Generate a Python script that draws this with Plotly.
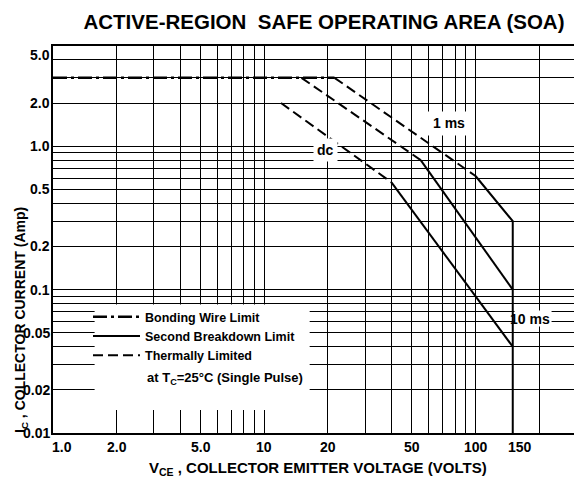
import math
import plotly.graph_objects as go

# ---------------- data ----------------
x_grid = [2, 3, 4, 5, 6, 7, 8, 9, 10, 20, 30, 40, 50, 60, 70, 80, 90, 100, 200]
x_tick_vals = [1, 2, 5, 10, 20, 50, 100, 150]
x_tick_labels = ["1.0", "2.0", "5.0", "10", "20", "50", "100", "150"]
y_grid = [4, 3, 2, 1, 0.9, 0.8, 0.7, 0.6, 0.5, 0.4, 0.3, 0.2,
          0.1, 0.09, 0.08, 0.07, 0.06, 0.05, 0.04, 0.03, 0.02]
y_tick_vals = [5, 2, 1, 0.5, 0.2, 0.1, 0.05, 0.02, 0.01]
y_tick_labels = ["5.0", "2.0", "1.0", "0.5", "0.2", "0.1", "0.05", "0.02", "0.01"]

bond_v = [1.0, 21.5]
bond_i = [3.0, 3.0]
dc_th_v = [12, 40]
dc_th_i = [2.0, 0.56]
dc_sb_v = [40, 150]
dc_sb_i = [0.56, 0.04]
ms10_th_v = [15, 55]
ms10_th_i = [3.0, 0.8]
ms10_sb_v = [55, 150]
ms10_sb_i = [0.8, 0.1]
ms1_th_v = [21.5, 100]
ms1_th_i = [3.0, 0.62]
ms1_sb_v = [100, 150, 150]
ms1_sb_i = [0.62, 0.3, 0.01]

FONT = "Arial, 'Liberation Sans', Helvetica, sans-serif"
INK = "#000000"
GRID = "#000000"
DASH = "10px,5px"
DASHDOT = "14px,4px,3px,4px"

fig = go.Figure()

fig.add_trace(go.Scatter(x=bond_v, y=bond_i, mode="lines", name="<b>Bonding Wire Limit</b>",
                         line=dict(color=INK, width=2.5, dash=DASHDOT), legendrank=1))
first = True
for v, i in [(dc_sb_v, dc_sb_i), (ms10_sb_v, ms10_sb_i), (ms1_sb_v, ms1_sb_i)]:
    fig.add_trace(go.Scatter(x=v, y=i, mode="lines", name="<b>Second Breakdown Limit</b>",
                             legendgroup="sb", showlegend=first, legendrank=2,
                             line=dict(color=INK, width=2)))
    first = False
first = True
for v, i in [(dc_th_v, dc_th_i), (ms10_th_v, ms10_th_i), (ms1_th_v, ms1_th_i)]:
    fig.add_trace(go.Scatter(x=v, y=i, mode="lines", name="<b>Thermally Limited</b>",
                             legendgroup="th", showlegend=first, legendrank=3,
                             line=dict(color=INK, width=2, dash=DASH)))
    first = False

ann = []
# tick labels
for v, t in zip(x_tick_vals, x_tick_labels):
    xs = 0
    if v == 1:
        xs = 9
    if v == 150:
        xs = 7
    ann.append(dict(x=math.log10(v), y=0, xref="x", yref="paper", text="<b>%s</b>" % t,
                    showarrow=False, xanchor="center", yanchor="top", yshift=-4, xshift=xs,
                    font=dict(family=FONT, size=14, color=INK)))
for v, t in zip(y_tick_vals, y_tick_labels):
    ys = -9 if v == 5 else 0
    ann.append(dict(x=0, y=math.log10(v), xref="paper", yref="y", text="<b>%s</b>" % t,
                    showarrow=False, xanchor="right", yanchor="middle", xshift=-1, yshift=ys,
                    font=dict(family=FONT, size=14, color=INK)))
# axis titles
ann.append(dict(x=0.5086, y=0, xref="paper", yref="paper", yshift=-35,
                text="<b>V<sub>CE</sub> , COLLECTOR EMITTER VOLTAGE (VOLTS)</b>",
                showarrow=False, xanchor="center", yanchor="middle",
                font=dict(family=FONT, size=15, color=INK)))
ann.append(dict(x=0, y=0.292, xref="paper", yref="paper", xshift=-32,
                text="<b>I<sub>C</sub> , COLLECTOR CURRENT (Amp)</b>", textangle=-90,
                showarrow=False, xanchor="center", yanchor="middle",
                font=dict(family=FONT, size=14, color=INK)))
# curve labels
ann.append(dict(x=math.log10(19.5), y=math.log10(0.938), xref="x", yref="y", text="<b>dc</b>",
                showarrow=False, bgcolor="white", borderpad=3,
                font=dict(family=FONT, size=14, color=INK)))
ann.append(dict(x=math.log10(74.5), y=math.log10(1.445), xref="x", yref="y", text="<b>1 ms</b>",
                showarrow=False, font=dict(family=FONT, size=14, color=INK)))
ann.append(dict(x=math.log10(182), y=math.log10(0.0628), xref="x", yref="y", text="<b>10 ms</b>",
                showarrow=False, font=dict(family=FONT, size=14, color=INK)))
ann.append(dict(x=0.1766, y=0.142, xref="paper", yref="paper",
                text="<b>at T<sub>C</sub>=25°C (Single Pulse)</b>",
                showarrow=False, xanchor="left", yanchor="middle",
                font=dict(family=FONT, size=13, color=INK)))

shapes = [
    dict(type="rect", xref="x", yref="y", x0=1.574, x1=16.4, y0=0.01445, y1=0.0787,
         fillcolor="white", line=dict(width=0), layer="between"),
    dict(type="rect", xref="x", yref="y", x0=57.4, x1=93.7, y0=1.19, y1=1.75,
         fillcolor="white", line=dict(width=0), layer="between"),
    dict(type="rect", xref="x", yref="y", x0=153, x1=229, y0=0.0553, y1=0.0714,
         fillcolor="white", line=dict(width=0), layer="between"),
]

fig.update_layout(
    width=574, height=478,
    margin=dict(l=53, r=0, t=46, b=45),
    paper_bgcolor="white", plot_bgcolor="white",
    title=dict(text="<b>ACTIVE-REGION\u00a0\u00a0SAFE OPERATING AREA (SOA)</b>",
               x=324 / 574, xref="container", xanchor="center",
               y=1 - 22 / 478, yref="container", yanchor="middle",
               font=dict(family=FONT, size=20.5, color=INK)),
    xaxis=dict(type="log", range=[0, 2.466], tickvals=x_grid, showticklabels=False,
               ticks="", showgrid=True, gridcolor=GRID, gridwidth=1.2,
               showline=True, linecolor=INK, linewidth=1.6, mirror=True, zeroline=False),
    yaxis=dict(type="log", range=[-2, math.log10(5)], tickvals=y_grid, showticklabels=False,
               ticks="", showgrid=True, gridcolor=GRID, gridwidth=1.2,
               showline=True, linecolor=INK, linewidth=1.6, mirror=False, zeroline=False),
    showlegend=True,
    legend=dict(x=(88 - 53) / 521, y=(433 - 302) / 387, xanchor="left", yanchor="top",
                bgcolor="rgba(0,0,0,0)", borderwidth=0, itemwidth=47,
                font=dict(family=FONT, size=12.5, color=INK), tracegroupgap=0),
    annotations=ann,
    shapes=shapes,
)

fig.write_html("out.html", config={"displayModeBar": False},
               post_script="document.body.style.margin='0';document.body.style.overflow='hidden';")
